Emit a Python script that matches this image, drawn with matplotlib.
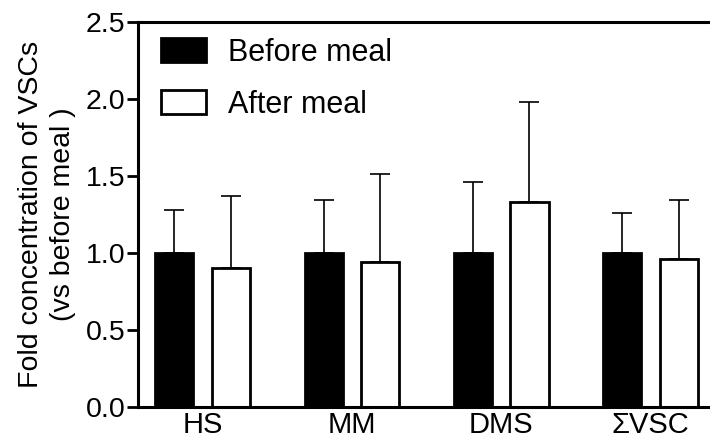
import matplotlib
matplotlib.use('Agg')
import matplotlib.pyplot as plt
import numpy as np

plt.rcParams['font.family'] = ['Liberation Sans', 'DejaVu Sans']

groups = ['HS', 'MM', 'DMS', 'ΣVSC']
before = [1.0, 1.0, 1.0, 1.0]
after = [0.90, 0.94, 1.33, 0.96]
before_err = [0.28, 0.34, 0.46, 0.26]
after_err = [0.47, 0.57, 0.65, 0.38]

x = np.arange(len(groups))
off = 0.19
w = 0.255

fig = plt.figure(figsize=(7.1, 4.42), dpi=100)
ax = fig.add_axes([0.194, 0.079, 0.806, 0.872])

# one-sided (upper) error bars, drawn under the bars
ax.errorbar(x - off, before, yerr=[np.zeros(4), before_err], fmt='none',
            ecolor='black', elinewidth=1.2, capsize=7, capthick=1.2, zorder=1)
ax.errorbar(x + off, after, yerr=[np.zeros(4), after_err], fmt='none',
            ecolor='black', elinewidth=1.2, capsize=7, capthick=1.2, zorder=1)

ax.bar(x - off, before, w, color='black', edgecolor='black', linewidth=2,
       label='Before meal', zorder=2)
ax.bar(x + off, after, w, color='white', edgecolor='black', linewidth=2,
       label='After meal', zorder=2)

ax.set_ylim(0, 2.5)
ax.set_xlim(-0.436, 3.40)
ax.set_yticks([0, 0.5, 1.0, 1.5, 2.0, 2.5])
ax.set_yticklabels(['0.0', '0.5', '1.0', '1.5', '2.0', '2.5'])
ax.set_xticks(x)
ax.set_xticklabels(groups)

ax.spines['right'].set_visible(False)
for s in ['left', 'bottom', 'top']:
    ax.spines[s].set_linewidth(2.2)

ax.tick_params(axis='y', length=8, width=2, labelsize=20.5, pad=1)
ax.tick_params(axis='x', length=0, labelsize=21, pad=3)

ax.set_ylabel('Fold concentration of VSCs\n(vs before meal )', fontsize=20.5,
              linespacing=1.3, labelpad=7)

ax.legend(loc='upper left', frameon=False, fontsize=22, handlelength=1.47,
          handleheight=0.85, handletextpad=0.7, labelspacing=0.72,
          borderaxespad=0.0, bbox_to_anchor=(0.02, 0.99))

fig.savefig('out.png', dpi=100)
